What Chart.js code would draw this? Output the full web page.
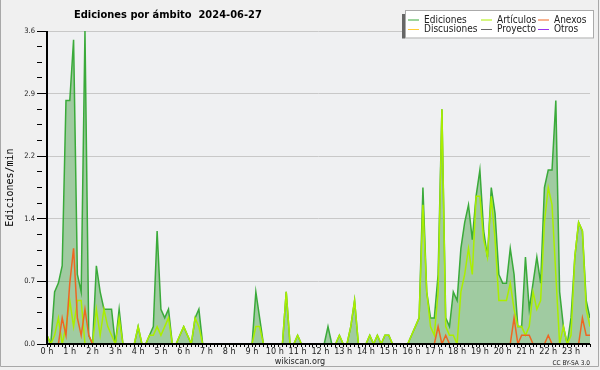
<!DOCTYPE html>
<html>
<head>
<meta charset="utf-8">
<script src="https://cdn.jsdelivr.net/npm/chart.js@4.4.1/dist/chart.umd.min.js"></script>
<style>
  body { margin: 0; background: #f0f0f0; }
</style>
</head>
<body>
<canvas id="myChart" width="600" height="370"></canvas>
<script>
// one value every 10 minutes, edits per minute
var hourLabels = ['0 h', '1 h', '2 h', '3 h', '4 h', '5 h', '6 h', '7 h', '8 h', '9 h', '10 h', '11 h',
                  '12 h', '13 h', '14 h', '15 h', '16 h', '17 h', '18 h', '19 h', '20 h', '21 h', '22 h', '23 h'];

var ediciones = [
    0.1, 0, 0.6, 0.7, 0.9, 2.8, 2.8, 3.5, 0.8, 0.6, 3.6, 0.1,
    0, 0.9, 0.6, 0.4, 0.4, 0.4, 0, 0.4, 0, 0, 0, 0,
    0.2, 0, 0, 0.1, 0.2, 1.3, 0.4, 0.3, 0.4, 0, 0, 0.1,
    0.2, 0.1, 0, 0.3, 0.4, 0, 0, 0, 0, 0, 0, 0,
    0, 0, 0, 0, 0, 0, 0, 0.6, 0.3, 0, 0, 0,
    0, 0, 0, 0.6, 0, 0, 0.1, 0, 0, 0, 0, 0,
    0, 0, 0.2, 0, 0, 0.1, 0, 0, 0.2, 0.5, 0, 0,
    0, 0.1, 0, 0.1, 0, 0.1, 0.1, 0, 0, 0, 0, 0,
    0.1, 0.2, 0.3, 1.8, 0.6, 0.3, 0.3, 0.8, 2.7, 0.3, 0.2, 0.6,
    0.5, 1.1, 1.4, 1.6, 1.2, 1.7, 2.0, 1.3, 1.0, 1.8, 1.5, 0.8,
    0.7, 0.7, 1.1, 0.8, 0.2, 0.2, 1.0, 0.4, 0.7, 1.0, 0.7, 1.8,
    2.0, 2.0, 2.8, 0.6, 0.2, 0, 0.3, 1.0, 1.4, 1.3, 0.5, 0.3
];
var articulos = [
    0.1, 0, 0.1, 0.3, 0, 0.2, 0.5, 0.2, 0.5, 0.5, 0, 0,
    0, 0.4, 0.1, 0.4, 0.2, 0.1, 0, 0.3, 0, 0, 0, 0,
    0.2, 0, 0, 0.1, 0.1, 0.2, 0.1, 0.2, 0.3, 0, 0, 0.1,
    0.2, 0.1, 0, 0.3, 0.2, 0, 0, 0, 0, 0, 0, 0,
    0, 0, 0, 0, 0, 0, 0, 0.2, 0.2, 0, 0, 0,
    0, 0, 0, 0.6, 0, 0, 0.1, 0, 0, 0, 0, 0,
    0, 0, 0, 0, 0, 0.1, 0, 0, 0.2, 0.5, 0, 0,
    0, 0.1, 0, 0.1, 0, 0.1, 0.1, 0, 0, 0, 0, 0,
    0.1, 0.2, 0.3, 1.6, 0.6, 0.2, 0.1, 0.6, 2.7, 0.2, 0.1, 0.1,
    0, 0.6, 0.8, 1.1, 0.8, 1.7, 1.7, 1.2, 1.0, 1.7, 1.2, 0.5,
    0.5, 0.5, 0.7, 0.4, 0.2, 0.2, 0.1, 0.2, 0.6, 0.4, 0.5, 1.4,
    1.8, 1.6, 0.8, 0, 0.2, 0, 0.1, 1.0, 1.4, 1.3, 0.4, 0.2
];
var anexos = [
    0, 0, 0, 0, 0.3, 0.1, 0.7, 1.1, 0.3, 0.1, 0.4, 0.1,
    0, 0, 0, 0, 0, 0, 0, 0, 0, 0, 0, 0,
    0, 0, 0, 0, 0, 0, 0, 0, 0, 0, 0, 0,
    0, 0, 0, 0, 0, 0, 0, 0, 0, 0, 0, 0,
    0, 0, 0, 0, 0, 0, 0, 0, 0, 0, 0, 0,
    0, 0, 0, 0, 0, 0, 0, 0, 0, 0, 0, 0,
    0, 0, 0, 0, 0, 0, 0, 0, 0, 0, 0, 0,
    0, 0, 0, 0, 0, 0, 0, 0, 0, 0, 0, 0,
    0, 0, 0, 0, 0, 0, 0, 0.2, 0, 0.1, 0, 0,
    0, 0, 0, 0, 0, 0, 0, 0, 0, 0, 0, 0,
    0, 0, 0, 0.3, 0, 0.1, 0.1, 0.1, 0, 0, 0, 0,
    0.1, 0, 0, 0, 0, 0, 0, 0, 0, 0.3, 0.1, 0.1
];
var discusiones = [
    0, 0, 0, 0, 0, 0, 0, 0, 0, 0, 0, 0, 0, 0, 0, 0, 0, 0, 0, 0, 0, 0, 0, 0,
    0, 0, 0, 0, 0, 0, 0, 0, 0, 0, 0, 0, 0, 0, 0, 0, 0, 0, 0, 0, 0, 0, 0, 0,
    0, 0, 0, 0, 0, 0, 0, 0, 0, 0, 0, 0, 0, 0, 0, 0, 0, 0, 0, 0, 0, 0, 0, 0,
    0, 0, 0, 0, 0, 0, 0, 0, 0, 0, 0, 0, 0, 0, 0, 0, 0, 0, 0, 0, 0, 0, 0, 0,
    0, 0, 0, 0, 0, 0, 0, 0, 0, 0, 0, 0, 0, 0, 0, 0, 0, 0, 0, 0, 0, 0, 0, 0,
    0, 0, 0, 0, 0, 0, 0, 0, 0, 0, 0, 0, 0, 0, 0, 0, 0, 0, 0, 0, 0, 0, 0, 0
];
var proyecto = [
    0, 0, 0, 0, 0, 0, 0, 0, 0, 0, 0, 0, 0, 0, 0, 0, 0, 0, 0, 0, 0, 0, 0, 0,
    0, 0, 0, 0, 0, 0, 0, 0, 0, 0, 0, 0, 0, 0, 0, 0, 0, 0, 0, 0, 0, 0, 0, 0,
    0, 0, 0, 0, 0, 0, 0, 0, 0, 0, 0, 0, 0, 0, 0, 0, 0, 0, 0, 0, 0, 0, 0, 0,
    0, 0, 0, 0, 0, 0, 0, 0, 0, 0, 0, 0, 0, 0, 0, 0, 0, 0, 0, 0, 0, 0, 0, 0,
    0, 0, 0, 0, 0, 0, 0, 0, 0, 0, 0, 0, 0, 0, 0, 0, 0, 0, 0, 0, 0, 0, 0, 0,
    0, 0, 0, 0, 0, 0, 0, 0, 0, 0, 0, 0, 0, 0, 0, 0, 0, 0, 0, 0, 0, 0, 0, 0
];
var otros = [
    0, 0, 0, 0, 0, 0, 0, 0, 0, 0, 0, 0, 0, 0, 0, 0, 0, 0, 0, 0, 0, 0, 0, 0,
    0, 0, 0, 0, 0, 0, 0, 0, 0, 0, 0, 0, 0, 0, 0, 0, 0, 0, 0, 0, 0, 0, 0, 0,
    0, 0, 0, 0, 0, 0, 0, 0, 0, 0, 0, 0, 0, 0, 0, 0, 0, 0, 0, 0, 0, 0, 0, 0,
    0, 0, 0, 0, 0, 0, 0, 0, 0, 0, 0, 0, 0, 0, 0, 0, 0, 0, 0, 0, 0, 0, 0, 0,
    0, 0, 0, 0, 0, 0, 0, 0, 0, 0, 0, 0, 0, 0, 0, 0, 0, 0, 0, 0, 0, 0, 0, 0,
    0, 0, 0, 0, 0, 0, 0, 0, 0, 0, 0, 0, 0, 0, 0, 0, 0, 0, 0, 0, 0, 0, 0, 0
];

var yStep = 0.18;   // minor tick, labels every 4th (0.72)
var fontCond = "'DejaVu Sans Condensed', 'DejaVu Sans', sans-serif";

// 10 minute slots "00:00" ... "23:50"
var slots = [];
for (var i = 0; i < ediciones.length; i++) {
    var h = Math.floor(i / 6), m = (i % 6) * 10;
    slots.push((h < 10 ? '0' : '') + h + ':' + (m === 0 ? '00' : m));
}

function isMajor(v) {
    return Math.round(v / yStep) % 4 === 0;
}

var decor = {
    id: 'decor',
    beforeDraw: function(chart) {
        var c = chart.ctx, a = chart.chartArea;
        c.save();
        c.fillStyle = '#f0f0f0';
        c.fillRect(0, 0, chart.width, chart.height);
        c.fillStyle = '#eff0f2';
        c.fillRect(a.left, a.top, a.right - a.left, a.bottom - a.top);
        c.restore();
    },
    afterDatasetsDraw: function(chart) {
        var c = chart.ctx, a = chart.chartArea;
        c.save();
        c.strokeStyle = '#000';
        c.lineWidth = 2;
        c.beginPath();
        c.moveTo(a.left, a.top);
        c.lineTo(a.left, a.bottom);
        c.lineTo(a.right, a.bottom);
        c.stroke();
        c.restore();
    },
    afterDraw: function(chart) {
        var c = chart.ctx;
        c.save();
        // title
        c.fillStyle = '#000';
        c.font = 'bold 11px ' + fontCond;
        c.textBaseline = 'alphabetic';
        c.fillText('Ediciones por ámbito  2024-06-27', 74, 18);
        // footer
        c.font = '9px ' + fontCond;
        c.fillStyle = '#222';
        c.textAlign = 'center';
        c.fillText('wikiscan.org', 300, 364);
        c.font = '6.5px ' + fontCond;
        c.textAlign = 'right';
        c.fillText('CC BY-SA 3.0', 590, 365);

        // legend box
        c.fillStyle = '#666';
        c.fillRect(402, 14, 3, 24.5);
        c.fillStyle = '#fff';
        c.fillRect(405, 10, 189, 28.5);
        c.strokeStyle = '#aaa';
        c.lineWidth = 1;
        c.strokeRect(405.5, 10.5, 188, 27.5);
        var colX = [408, 481, 538], rowY = [19.5, 29];
        c.font = '10px ' + fontCond;
        c.textAlign = 'left';
        c.textBaseline = 'middle';
        chart.data.datasets.forEach(function(ds, k) {
            var x = colX[k % 3], y = rowY[Math.floor(k / 3)];
            c.strokeStyle = ds.borderColor;
            c.lineWidth = 1;
            c.beginPath();
            c.moveTo(x, y + 0.5);
            c.lineTo(x + 11, y + 0.5);
            c.stroke();
            c.fillStyle = '#222';
            c.fillText(ds.label, x + 16, y + 0.5);
        });

        // frame
        c.strokeStyle = '#a8a8a8';
        c.lineWidth = 1;
        c.beginPath();
        c.moveTo(0.5, 0);
        c.lineTo(0.5, 366.5);
        c.lineTo(598.5, 366.5);
        c.lineTo(598.5, 0);
        c.stroke();
        c.restore();
    }
};

function lineSet(label, data, color, order, extra) {
    var ds = {
        label: label,
        data: data,
        borderColor: color,
        borderWidth: 1.5,
        pointRadius: 0,
        tension: 0,
        fill: false,
        order: order,
        clip: 0
    };
    for (var k in extra) ds[k] = extra[k];
    return ds;
}

var ctx = document.getElementById('myChart');
var myChart = new Chart(ctx, {
    type: 'line',
    data: {
        labels: slots,
        datasets: [
            lineSet('Ediciones', ediciones, '#3aaa3a', 6, { fill: 'origin', backgroundColor: 'rgba(51,153,51,0.42)' }),
            lineSet('Artículos', articulos, '#aaee00', 2, {}),
            lineSet('Anexos', anexos, '#ee6622', 1, {}),
            lineSet('Discusiones', discusiones, '#ffcc33', 5, {}),
            lineSet('Proyecto', proyecto, '#666666', 4, {}),
            lineSet('Otros', otros, '#9933ee', 3, {})
        ]
    },
    options: {
        responsive: false,
        animation: false,
        layout: { autoPadding: false, padding: { top: 31, right: 10, left: 0, bottom: 0 } },
        plugins: {
            legend: { display: false },
            title: { display: false },
            tooltip: { enabled: false }
        },
        scales: {
            x: {
                type: 'category',
                border: { display: false },
                grid: { drawOnChartArea: false, tickLength: 3, tickColor: '#000', tickWidth: 1 },
                ticks: {
                    autoSkip: false,
                    maxRotation: 0,
                    padding: -1,
                    color: '#222',
                    font: { family: fontCond, size: 9 },
                    callback: function(v) { return v % 6 === 0 ? hourLabels[v / 6] : ''; }
                },
                afterFit: function(s) { s.height = 26; }
            },
            y: {
                min: 0,
                max: 3.6,
                border: { display: false },
                grid: {
                    tickLength: 10,
                    tickColor: '#000',
                    tickWidth: 1,
                    color: function(c) { return c.tick && isMajor(c.tick.value) ? '#c8c8c8' : 'rgba(0,0,0,0)'; },
                    tickBorderDash: function(c) { return c.tick && isMajor(c.tick.value) ? [] : [5, 20]; }
                },
                ticks: {
                    stepSize: yStep,
                    autoSkip: false,
                    padding: 2,
                    color: '#222',
                    font: { family: fontCond, size: 7.5 },
                    callback: function(v) { return isMajor(v) ? v.toFixed(1) : ''; }
                },
                title: {
                    display: true,
                    text: 'Ediciones/min',
                    color: '#000',
                    padding: { top: 4, bottom: 0 },
                    font: { family: "'DejaVu Sans Mono', monospace", size: 10 }
                },
                afterFit: function(s) { s.width = 47; }
            }
        }
    },
    plugins: [decor]
});
</script>
</body>
</html>
